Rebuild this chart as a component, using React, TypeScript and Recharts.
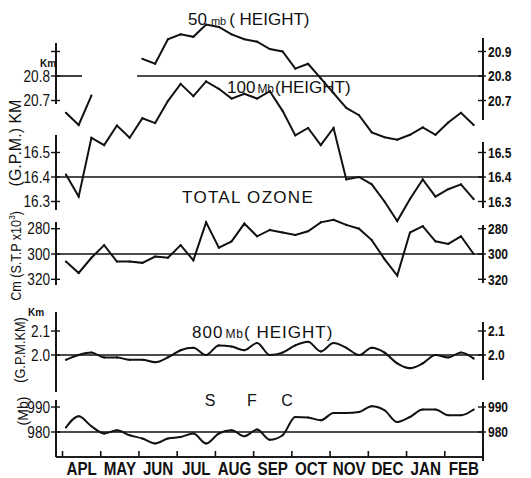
import React from "react";
import { ComposedChart, Line, XAxis, YAxis, ReferenceLine } from "recharts";

// months on the time axis, three ten-day means per month
const months = ["APL", "MAY", "JUN", "JUL", "AUG", "SEP", "OCT", "NOV", "DEC", "JAN", "FEB"];

// 50 mb height (km), gap where no data
const h50 = [20.65, 20.6, 20.72, null, null, null, 20.87, 20.85, 20.95, 20.97, 20.96, 21.01, 21.0, 20.97, 20.95, 20.94, 20.91, 20.9, 20.83, 20.85, 20.79, 20.73, 20.67, 20.64, 20.57, 20.55, 20.54, 20.56, 20.59, 20.56, 20.61, 20.65, 20.6];
// 100 mb height (km)
const h100 = [16.41, 16.32, 16.56, 16.53, 16.61, 16.56, 16.64, 16.62, 16.71, 16.78, 16.73, 16.79, 16.76, 16.72, 16.74, 16.72, 16.75, 16.67, 16.57, 16.6, 16.53, 16.6, 16.39, 16.4, 16.37, 16.3, 16.22, 16.31, 16.39, 16.32, 16.35, 16.37, 16.31];
// total ozone (cm STP x10^-3)
const ozone = [306, 315, 303, 293, 306, 306, 307, 302, 303, 293, 305, 275, 295, 290, 276, 286, 281, 283, 285, 282, 275, 273, 277, 280, 289, 304, 317, 283, 278, 290, 292, 286, 300];
// 800 mb height (km)
const h800 = [1.98, 2.0, 2.01, 1.99, 1.99, 1.98, 1.98, 1.97, 1.99, 2.02, 2.03, 2.0, 2.04, 2.035, 2.02, 2.05, 2.0, 2.01, 2.04, 2.055, 2.015, 2.05, 2.03, 2.0, 2.03, 2.01, 1.965, 1.945, 1.965, 2.0, 1.99, 2.01, 1.985];
// surface pressure (mb)
const sfc = [981.8, 986.3, 982.3, 979.4, 980.7, 978.7, 977.4, 975.4, 977.4, 978.0, 979.4, 975.4, 979.4, 980.7, 978.3, 981.0, 976.9, 978.7, 986.0, 985.8, 984.7, 987.6, 987.6, 988.0, 990.3, 988.7, 984.0, 986.0, 989.0, 989.0, 986.7, 986.7, 989.0];

const data = h100.map((_, i) => ({
  t: i / 3 + 0.09,
  h50: h50[i],
  h100: h100[i],
  oz: ozone[i],
  h800: h800[i],
  sfc: sfc[i],
}));

const X0 = -0.17;
const X1 = 11;
const TOP = 20;
const BOTTOM = 462;

const ink = "#111";
const sans = "'Liberation Sans', Arial, sans-serif";

// each scale: value `anchor` drawn at row `at`, `per` units per pixel (negative = grows downward)
type Scale = { id: string; anchor: number; at: number; per: number; ticks: number[]; left: (v: number) => string; right: (v: number) => string };
const fix1 = (v: number) => v.toFixed(1);
const scales: Scale[] = [
  { id: "a50", anchor: 20.8, at: 76, per: 0.1 / 24.5, ticks: [20.7, 20.8, 20.9], left: (v) => (v === 20.9 ? "" : fix1(v)), right: fix1 },
  { id: "a100", anchor: 16.4, at: 177, per: 0.1 / 24.5, ticks: [16.3, 16.4, 16.5], left: fix1, right: fix1 },
  { id: "aoz", anchor: 300, at: 254, per: -20 / 25.3, ticks: [280, 300, 320], left: String, right: String },
  { id: "a800", anchor: 2.0, at: 355, per: 0.1 / 24, ticks: [2.0, 2.1], left: fix1, right: fix1 },
  { id: "asfc", anchor: 980, at: 432, per: 10 / 25, ticks: [980, 990], left: String, right: String },
];
const byId = (id: string) => scales.find((s) => s.id === id) as Scale;
const valAt = (s: Scale, px: number) => s.anchor + (s.at - px) * s.per;
const domainOf = (s: Scale, top: number, bottom: number): [number, number] => {
  const a = valAt(s, top);
  const b = valAt(s, bottom);
  return [Math.min(a, b), Math.max(a, b)];
};

// vertical axis bars drawn for each panel (pixel rows of their ends)
const frames = [
  { id: "a50", side: "left", top: 43, bottom: 104 },
  { id: "a50", side: "right", top: 38, bottom: 120 },
  { id: "a100", side: "left", top: 135, bottom: 210 },
  { id: "a100", side: "right", top: 142, bottom: 208 },
  { id: "aoz", side: "left", top: 222, bottom: 285 },
  { id: "aoz", side: "right", top: 225, bottom: 283 },
  { id: "a800", side: "left", top: 312, bottom: 392 },
  { id: "a800", side: "right", top: 322, bottom: 380 },
  { id: "asfc", side: "left", top: 400, bottom: 457 },
  { id: "asfc", side: "right", top: 402, bottom: 461 },
];
const monthEdges = [0, 1, 2, 3, 4, 5, 6, 7, 8, 9, 10, 11];

// tick label squeezed like the hand lettering, with a short cross mark on the bar
function AxisTick(props: any) {
  const { x, y, payload, fmt, size, weight, sx, side } = props;
  const label = fmt(payload.value);
  const left = side === "left";
  return (
    <g>
      <line x1={x - 5} x2={left ? x + 4 : x + 3} y1={y} y2={y} stroke={ink} strokeWidth={1.4} />
      {label ? (
        <g transform={`translate(${left ? x - 6 : x + 5},${y}) scale(${sx},1)`}>
          <text x={0} y={0} dy="0.355em" textAnchor={left ? "end" : "start"} fontSize={size} fontWeight={weight} fontFamily={sans} fill={ink}>
            {label}
          </text>
        </g>
      ) : null}
    </g>
  );
}

function MonthTick(props: any) {
  const { x, y, payload } = props;
  return (
    <g transform={`translate(${x},${y}) scale(0.8,1)`}>
      <text x={0} y={0} dy="0.66em" textAnchor="middle" fontSize={19} fontWeight={700} fontFamily={sans} fill={ink}>
        {months[Math.floor(payload.value)]}
      </text>
    </g>
  );
}

function Frame({ id, side, top, bottom }: { id: string; side: string; top: number; bottom: number }) {
  const s = byId(id);
  const left = side === "left";
  return (
    <div style={{ position: "absolute", left: 0, top: top - 8 }}>
      <ComposedChart
        width={531}
        height={bottom - top + 16}
        data={data}
        margin={{ top: 8, bottom: 7, left: left ? 55 : 56, right: left ? 48 : 47 }}
      >
        <XAxis type="number" dataKey="t" domain={[X0, X1]} allowDataOverflow height={1} tick={false} axisLine={false} tickLine={false} />
        <YAxis
          orientation={left ? "left" : "right"}
          type="number"
          width={1}
          domain={domainOf(s, top, bottom)}
          allowDataOverflow
          reversed={s.per < 0}
          ticks={s.ticks}
          interval={0}
          axisLine={{ stroke: ink, strokeWidth: 1.6 }}
          tickLine={false}
          tickSize={0}
          tickMargin={0}
          tick={(p: any) =>
            left ? (
              <AxisTick {...p} side="left" fmt={s.left} size={16} weight={400} sx={0.85} />
            ) : (
              <AxisTick {...p} side="right" fmt={s.right} size={15} weight={700} sx={0.8} />
            )
          }
        />
      </ComposedChart>
    </div>
  );
}

const seg = { stroke: ink, strokeWidth: 1.6 };
const bar = { stroke: ink, strokeWidth: 1.8, ifOverflow: "visible" as const };
const dot = { r: 1.1, fill: ink, stroke: "none" };

const label = (left: number, baseline: number, size: number, extra: React.CSSProperties = {}): React.CSSProperties => ({
  position: "absolute",
  left,
  top: baseline - 0.8465 * size,
  fontSize: size,
  lineHeight: `${size}px`,
  fontFamily: sans,
  color: ink,
  whiteSpace: "nowrap",
  ...extra,
});
const upright = (cx: number, cy: number, size: number, sx = 1): React.CSSProperties => ({
  position: "absolute",
  left: cx,
  top: cy,
  fontSize: size,
  lineHeight: `${size}px`,
  fontFamily: sans,
  color: ink,
  whiteSpace: "nowrap",
  transform: `translate(-50%,-50%) rotate(-90deg) scaleX(${sx})`,
});

export default function App() {
  return (
    <div style={{ position: "absolute", left: 0, top: 0, width: 531, height: 478, background: "#fff" }}>
      <ComposedChart width={531} height={478} data={data} margin={{ top: TOP, right: 43, bottom: 0, left: 51 }}>
        <XAxis
          type="number"
          dataKey="t"
          domain={[X0, X1]}
          allowDataOverflow
          ticks={[0.5, 1.5, 2.5, 3.5, 4.5, 5.5, 6.5, 7.5, 8.5, 9.5, 10.5]}
          interval={0}
          tickLine={false}
          axisLine={false}
          tickSize={0}
          tickMargin={0}
          height={16}
          tick={(p: any) => <MonthTick {...p} />}
        />
        {scales.map((s) => (
          <YAxis
            key={s.id}
            yAxisId={s.id}
            orientation="left"
            type="number"
            width={1}
            domain={domainOf(s, TOP, BOTTOM)}
            allowDataOverflow
            reversed={s.per < 0}
            tick={false}
            axisLine={false}
            tickLine={false}
          />
        ))}
        {scales.map((s) => (
          <YAxis
            key={s.id + "r"}
            yAxisId={s.id + "r"}
            orientation="right"
            type="number"
            width={1}
            domain={domainOf(s, TOP, BOTTOM)}
            allowDataOverflow
            tick={false}
            axisLine={false}
            tickLine={false}
          />
        ))}
        {/* axis bars of each panel, drawn on the panel's own scale */}
        {frames.map((f) => {
          const s = byId(f.id);
          const x = f.side === "left" ? X0 : X1;
          return (
            <ReferenceLine
              key={"bar" + f.id + f.side}
              yAxisId={f.id}
              segment={[{ x, y: valAt(s, f.bottom) }, { x, y: valAt(s, f.top) }]}
              {...bar}
            />
          );
        })}
        {/* time axis baseline with month marks pointing up */}
        <ReferenceLine yAxisId="asfc" y={970} {...seg} />
        <ReferenceLine yAxisId="asfc" segment={[{ x: X0, y: 970 }, { x: X1, y: 970 }]} {...seg} />
        {monthEdges.map((m) => (
          <ReferenceLine key={"m" + m} yAxisId="asfc" segment={[{ x: m, y: 970 }, { x: m, y: 972.4 }]} {...seg} />
        ))}
        <ReferenceLine yAxisId="a50" segment={[{ x: X0, y: 20.8 }, { x: 0.51, y: 20.8 }]} {...seg} />
        <ReferenceLine yAxisId="a50" segment={[{ x: 1.95, y: 20.8 }, { x: X1, y: 20.8 }]} {...seg} />
        <ReferenceLine yAxisId="a100" y={16.4} {...seg} />
        <ReferenceLine yAxisId="aoz" y={300} {...seg} />
        <ReferenceLine yAxisId="a800" y={2.0} {...seg} />
        <ReferenceLine yAxisId="asfc" y={980} {...seg} />

        <Line yAxisId="a50" dataKey="h50" type="linear" stroke={ink} strokeWidth={2} dot={dot} isAnimationActive={false} connectNulls={false} />
        <Line yAxisId="a100" dataKey="h100" type="linear" stroke={ink} strokeWidth={2} dot={dot} isAnimationActive={false} />
        <Line yAxisId="aoz" dataKey="oz" type="linear" stroke={ink} strokeWidth={2} dot={dot} isAnimationActive={false} />
        <Line yAxisId="a800" dataKey="h800" type="monotone" stroke={ink} strokeWidth={2} dot={dot} isAnimationActive={false} />
        <Line yAxisId="asfc" dataKey="sfc" type="monotone" stroke={ink} strokeWidth={2} dot={dot} isAnimationActive={false} />
      </ComposedChart>

      {frames.map((f) => (
        <Frame key={f.id + f.side} id={f.id} side={f.side} top={f.top} bottom={f.bottom} />
      ))}

      <div style={label(188, 25, 17)}>
        50<span style={{ fontSize: 11, marginLeft: 4 }}>mb</span>
        <span style={{ marginLeft: 3 }}>( HEIGHT)</span>
      </div>
      <div style={label(227, 93, 17)}>
        100<span style={{ fontSize: 12, marginLeft: 2 }}>Mb</span>
        <span style={{ marginLeft: 1 }}>(HEIGHT)</span>
      </div>
      <div style={label(182, 203, 17, { letterSpacing: 1.3 })}>TOTAL OZONE</div>
      <div style={label(192, 338, 17, { letterSpacing: 1 })}>
        800<span style={{ fontSize: 12, marginLeft: 2 }}>Mb</span>
        <span>( HEIGHT)</span>
      </div>
      <div style={label(210, 407, 16, { transform: "translateX(-50%)" })}>S</div>
      <div style={label(252, 407, 16, { transform: "translateX(-50%)" })}>F</div>
      <div style={label(287, 407, 16, { transform: "translateX(-50%)" })}>C</div>
      <div style={label(48, 67, 10, { transform: "translateX(-50%)", fontWeight: 700 })}>Km</div>
      <div style={label(36, 316, 10, { transform: "translateX(-50%)", fontWeight: 700 })}>Km</div>

      <div style={upright(16, 143, 16)}>(G.P.M.) KM</div>
      <div style={upright(16, 256, 14, 0.9)}>
        Cm (S.T.P x10<sup style={{ fontSize: 9, lineHeight: 0 }}>3</sup>)
      </div>
      <div style={upright(19, 350, 15, 0.85)}>(G.P.M.KM)</div>
      <div style={upright(23, 411, 14)}>(Mb)</div>
    </div>
  );
}
